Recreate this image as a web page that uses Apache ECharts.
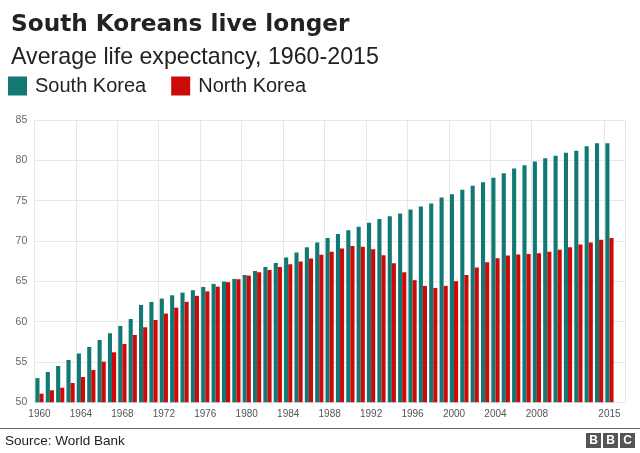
<!DOCTYPE html>
<html>
<head>
<meta charset="utf-8">
<script src="https://cdn.jsdelivr.net/npm/echarts@6/dist/echarts.min.js"></script>
<style>html,body{margin:0;padding:0;background:#fff}#c{width:640px;height:453px}</style>
</head>
<body>
<div id="c"></div>
<script>
var years = ['1960','1961','1962','1963','1964','1965','1966','1967','1968','1969',
  '1970','1971','1972','1973','1974','1975','1976','1977','1978','1979',
  '1980','1981','1982','1983','1984','1985','1986','1987','1988','1989',
  '1990','1991','1992','1993','1994','1995','1996','1997','1998','1999',
  '2000','2001','2002','2003','2004','2005','2006','2007','2008','2009',
  '2010','2011','2012','2013','2014','2015'];
var southKorea = [53.0,53.76,54.5,55.25,56.05,56.86,57.73,58.56,59.47,60.33,
  62.07,62.45,62.86,63.27,63.6,63.9,64.3,64.68,64.96,65.3,
  65.79,66.29,66.79,67.28,67.94,68.56,69.23,69.8,70.38,70.88,
  71.34,71.75,72.25,72.74,73.07,73.4,73.9,74.27,74.64,75.39,
  75.8,76.34,76.84,77.29,77.83,78.41,78.98,79.4,79.85,80.27,
  80.56,80.93,81.18,81.76,82.13,82.13];
var northKorea = [51.07,51.49,51.81,52.39,53.14,54.0,55.04,56.2,57.23,58.35,
  59.3,60.2,61.0,61.74,62.45,63.2,63.75,64.34,64.89,65.26,
  65.71,66.13,66.41,66.79,67.12,67.45,67.82,68.28,68.65,69.06,
  69.39,69.3,68.98,68.24,67.25,66.13,65.14,64.43,64.18,64.43,
  65.01,65.79,66.7,67.37,67.87,68.19,68.32,68.4,68.49,68.65,
  68.9,69.23,69.55,69.8,70.14,70.38];
var xTickLabels = ['1960','1964','1968','1972','1976','1980','1984','1988','1992','1996','2000','2004','2008','2015'];
var yMin = 50, yMax = 85, yStep = 5;

var TEAL = '#117873', RED = '#cc0a0a';
var showTick = function (idx, val) { return xTickLabels.indexOf(years[idx]) >= 0; };

var chart = echarts.init(document.getElementById('c'), null, {renderer: 'canvas'});
chart.setOption({
  animation: false,
  title: [
    {text: 'South Koreans live longer', left: 6, top: 8,
     textStyle: {fontFamily: 'DejaVu Sans', fontWeight: 'bold', fontSize: 23.2, color: '#222'}},
    {text: 'Average life expectancy, 1960-2015', left: 6, top: 41,
     textStyle: {fontFamily: 'Liberation Sans', fontWeight: 'normal', fontSize: 23.2, color: '#222'}}
  ],
  legend: {
    left: 8, top: 76, padding: 0, icon: 'rect', itemWidth: 19, itemHeight: 19, itemGap: 25,
    textStyle: {fontFamily: 'Liberation Sans', fontSize: 20, color: '#222', padding: [0, 0, 0, 3]},
    data: ['South Korea', 'North Korea']
  },
  grid: {left: 34.3, right: 15, top: 120, bottom: 50.7},
  xAxis: {
    type: 'category', data: years, max: 56, boundaryGap: true,
    axisLine: {show: false}, axisTick: {show: false},
    axisLabel: {interval: showTick, margin: 7, fontFamily: 'Liberation Sans', fontSize: 10, color: '#555'},
    splitLine: {show: true, interval: showTick, lineStyle: {color: '#e8e8e8', width: 1}}
  },
  yAxis: {
    type: 'value', min: yMin, max: yMax, interval: yStep,
    axisLine: {show: false}, axisTick: {show: false},
    axisLabel: {margin: 7, fontFamily: 'Liberation Sans', fontSize: 10.5, color: '#666'},
    splitLine: {lineStyle: {color: '#e8e8e8', width: 1}}
  },
  series: [
    {name: 'South Korea', type: 'bar', data: southKorea, barWidth: 4.1, barGap: '0%',
     itemStyle: {color: TEAL}},
    {name: 'North Korea', type: 'bar', data: northKorea, barWidth: 4.1, barGap: '0%',
     itemStyle: {color: RED}}
  ],
  graphic: [
    {type: 'line', shape: {x1: 0, y1: 428.5, x2: 640, y2: 428.5}, style: {stroke: '#666', lineWidth: 1}},
    {type: 'text', left: 5, top: 434, style: {text: 'Source: World Bank', fontFamily: 'Liberation Sans', fontSize: 13.5, fill: '#222'}},
    {type: 'rect', shape: {x: 586, y: 433, width: 15, height: 15}, style: {fill: '#555'}},
    {type: 'rect', shape: {x: 603, y: 433, width: 15, height: 15}, style: {fill: '#555'}},
    {type: 'rect', shape: {x: 620, y: 433, width: 15, height: 15}, style: {fill: '#555'}},
    {type: 'text', x: 593.5, y: 440.5, style: {text: 'B', fontFamily: 'Liberation Sans', fontWeight: 'bold', fontSize: 12, fill: '#fff', align: 'center', verticalAlign: 'middle'}},
    {type: 'text', x: 610.5, y: 440.5, style: {text: 'B', fontFamily: 'Liberation Sans', fontWeight: 'bold', fontSize: 12, fill: '#fff', align: 'center', verticalAlign: 'middle'}},
    {type: 'text', x: 627.5, y: 440.5, style: {text: 'C', fontFamily: 'Liberation Sans', fontWeight: 'bold', fontSize: 12, fill: '#fff', align: 'center', verticalAlign: 'middle'}}
  ]
});
</script>
</body>
</html>
